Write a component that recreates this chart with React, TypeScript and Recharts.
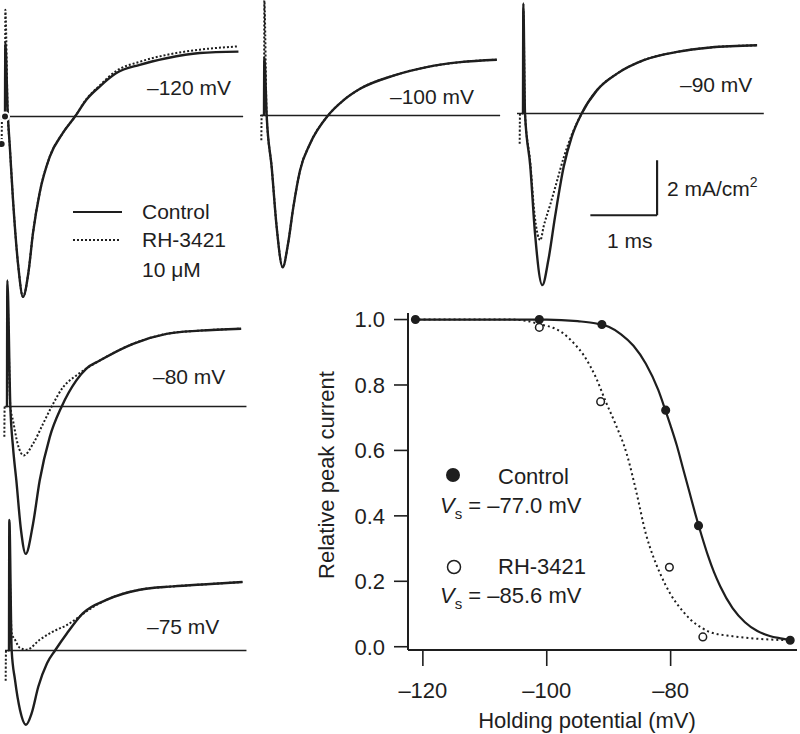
import { LineChart, ComposedChart, Line, Scatter, XAxis, YAxis, ReferenceLine } from 'recharts'

const INK = '#1e1e1e'
const FONT = '"Liberation Sans", Arial, Helvetica, sans-serif'

// ---- current traces: [time (ms), current (mA/cm2)] ----
const CONTROL_120 = [[0, 0], [0.005, 2.68], [0.04, 0.2], [0.075, -1.21], [0.12, -3.03], [0.2, -5.47], [0.27, -6.56], [0.35, -5.69], [0.42, -4.23], [0.52, -2.77], [0.67, -1.47], [0.87, -0.59], [1.05, 0], [1.22, 0.61], [1.42, 1.09], [1.67, 1.58], [2.02, 1.88], [2.42, 2.12], [2.92, 2.31], [3.5, 2.36]]
const DRUG_120 = [[-0.05, -1.0], [-0.045, 0], [0, 0], [0.005, 3.88], [0.04, 0.2], [0.075, -1.21], [0.12, -3.03], [0.2, -5.47], [0.27, -6.56], [0.35, -5.69], [0.42, -4.23], [0.52, -2.77], [0.67, -1.47], [0.87, -0.59], [1.05, 0], [1.22, 0.63], [1.42, 1.13], [1.67, 1.66], [2.02, 1.99], [2.42, 2.24], [2.92, 2.43], [3.5, 2.55]]

const CONTROL_100 = [[0, 0], [0.005, 2.11], [0.04, 0], [0.115, -1.88], [0.19, -4.06], [0.28, -5.52], [0.36, -4.67], [0.44, -3.33], [0.54, -2.0], [0.69, -1.03], [0.96, 0], [1.19, 0.55], [1.44, 0.97], [1.94, 1.45], [2.44, 1.76], [2.94, 1.94], [3.49, 2.03]]
const DRUG_100 = [[-0.04, -0.9], [-0.035, 0], [0, 0], [0.005, 4.18], [0.04, 0], [0.115, -1.88], [0.19, -4.06], [0.28, -5.52], [0.36, -4.67], [0.44, -3.33], [0.54, -2.0], [0.69, -1.03], [0.96, 0], [1.19, 0.55], [1.44, 0.97], [1.94, 1.45], [2.44, 1.76], [2.94, 1.94], [3.49, 2.03]]

const CONTROL_90 = [[0, 0], [0.005, 4.0], [0.03, 0], [0.11, -1.94], [0.18, -4.36], [0.29, -6.24], [0.38, -5.33], [0.48, -3.76], [0.61, -1.94], [0.73, -0.85], [0.88, 0], [1.11, 0.85], [1.41, 1.45], [1.81, 1.94], [2.31, 2.24], [2.81, 2.4], [3.51, 2.48]]
const DRUG_90 = [[-0.05, -1.1], [-0.045, 0], [0, 0], [0.005, 3.8], [0.03, 0], [0.11, -1.8], [0.17, -3.6], [0.22, -4.4], [0.26, -4.61], [0.31, -4.1], [0.41, -3.3], [0.51, -2.45], [0.61, -1.6], [0.73, -0.78], [0.88, 0], [1.11, 0.85], [1.41, 1.45], [1.81, 1.94], [2.31, 2.24], [2.81, 2.4], [3.51, 2.48]]

const CONTROL_80 = [[0, 0], [0.005, 4.58], [0.05, 0], [0.09, -1.48], [0.14, -2.69], [0.21, -4.5], [0.28, -5.36], [0.39, -4.27], [0.49, -2.69], [0.64, -1.12], [0.82, 0], [1.04, 0.95], [1.19, 1.38], [1.39, 1.67], [1.89, 2.28], [2.39, 2.64], [2.89, 2.76], [3.51, 2.83]]
const DRUG_80 = [[-0.04, -1.1], [-0.035, 0], [0, 0], [0.005, 4.0], [0.05, 0], [0.09, -0.51], [0.16, -1.36], [0.25, -1.78], [0.39, -1.36], [0.54, -0.63], [0.67, 0], [0.84, 0.7], [1.04, 1.13], [1.19, 1.38], [1.39, 1.67], [1.89, 2.28], [2.39, 2.64], [2.89, 2.76], [3.51, 2.83]]

const CONTROL_75 = [[0, 0], [0.005, 4.75], [0.04, 0], [0.09, -1.07], [0.165, -2.16], [0.255, -2.7], [0.34, -2.28], [0.44, -1.31], [0.57, -0.46], [0.69, 0], [0.87, 0.63], [1.11, 1.36], [1.46, 1.84], [1.96, 2.21], [2.46, 2.33], [2.96, 2.41], [3.5, 2.49]]
const DRUG_75 = [[-0.05, -1.1], [-0.045, 0], [0, 0], [0.005, 3.0], [0.04, 0.63], [0.09, 0.39], [0.165, 0.09], [0.265, 0.03], [0.46, 0.39], [0.66, 0.69], [0.87, 0.93], [1.06, 1.24], [1.16, 1.42], [1.46, 1.84], [1.96, 2.21], [2.46, 2.33], [2.96, 2.41], [3.5, 2.49]]

// ---- inactivation curve: [holding potential (mV), relative peak current] ----
const CONTROL_POINTS = [[-121.2, 1.0], [-101.2, 1.0], [-91.1, 0.985], [-80.8, 0.723], [-75.5, 0.37], [-60.7, 0.02]]
const DRUG_POINTS = [[-101.2, 0.976], [-91.3, 0.749], [-80.2, 0.243], [-74.8, 0.03]]
const CONTROL_FIT = [[-121.5, 1.0], [-110, 1.0], [-100, 1.0], [-95, 0.995], [-92, 0.988], [-90, 0.978], [-88, 0.955], [-86, 0.92], [-84, 0.865], [-82, 0.785], [-80.8, 0.72], [-80, 0.675], [-79, 0.615], [-78, 0.545], [-77, 0.475], [-76, 0.405], [-75, 0.34], [-74, 0.28], [-73, 0.228], [-72, 0.185], [-70, 0.118], [-68, 0.075], [-66, 0.048], [-64, 0.033], [-62, 0.025], [-60.7, 0.02]]
const DRUG_FIT = [[-121.5, 1.0], [-106, 1.0], [-103, 0.995], [-101, 0.985], [-99, 0.975], [-97.5, 0.96], [-95.6, 0.927], [-94, 0.89], [-92, 0.82], [-90.5, 0.75], [-89, 0.685], [-87.1, 0.59], [-85.5, 0.47], [-84, 0.345], [-82.8, 0.275], [-81.7, 0.224], [-80, 0.16], [-78, 0.108], [-76.9, 0.085], [-75, 0.058], [-73.7, 0.045], [-70, 0.032], [-67, 0.026], [-64, 0.022], [-60.7, 0.02]]

const X_TICKS = [-120, -100, -80]
const Y_TICKS = [0, 0.2, 0.4, 0.6, 0.8, 1.0]

const tr = (arr: number[][]) => arr.map(([t, i]) => ({ t, i }))
const pt = (arr: number[][]) => arr.map(([v, r]) => ({ v, r }))

// trace panel scale
const PX_PER_MS = 66.7
const PX_PER_MA = 27.5
const T_MIN = -0.15
const T_MAX = 3.75
const I_MIN = -7
const I_MAX = 5

function TracePanel({ x0, y0, base, control, drug, children }: any) {
  const width = (T_MAX - T_MIN) * PX_PER_MS
  const height = (I_MAX - I_MIN) * PX_PER_MA
  return (
    <div style={{ position: 'absolute', left: x0 + T_MIN * PX_PER_MS, top: y0 - I_MAX * PX_PER_MA }}>
      <LineChart width={width} height={height} margin={{ top: 0, right: 0, bottom: 0, left: 0 }}>
        <XAxis type="number" dataKey="t" domain={[T_MIN, T_MAX]} hide allowDataOverflow />
        <YAxis type="number" domain={[I_MIN, I_MAX]} hide allowDataOverflow />
        <ReferenceLine segment={[{ x: base[0], y: 0 }, { x: base[1], y: 0 }]} stroke={INK} strokeWidth={1.6} />
        {children}
        <Line
          data={tr(drug)}
          dataKey="i"
          type="monotone"
          stroke={INK}
          strokeWidth={2}
          strokeDasharray="2 2"
          dot={false}
          isAnimationActive={false}
        />
        <Line
          data={tr(control)}
          dataKey="i"
          type="monotone"
          stroke={INK}
          strokeWidth={2.4}
          dot={false}
          isAnimationActive={false}
        />
      </LineChart>
    </div>
  )
}

const dotShape = (filled: boolean, r: number) => (props: any) => (
  <circle
    cx={props.cx}
    cy={props.cy}
    r={r}
    fill={filled ? INK : '#fff'}
    stroke={INK}
    strokeWidth={1.5}
  />
)

export default function App() {
  const tickStyle = { fill: INK, fontSize: 22, fontFamily: FONT }
  return (
    <div style={{ position: 'absolute', left: 0, top: 0, width: 800, height: 734, background: '#fff', fontFamily: FONT, overflow: 'hidden' }}>
      <TracePanel x0={5} y0={116.7} base={[-0.075, 3.57]} control={CONTROL_120} drug={DRUG_120} />
      <TracePanel x0={264} y0={115} base={[-0.06, 3.54]} control={CONTROL_100} drug={DRUG_100} />
      <TracePanel x0={522.7} y0={113.3} base={[-0.09, 3.61]} control={CONTROL_90} drug={DRUG_90}>
        {/* scale bar: 1 ms x 2 mA/cm2 */}
        <ReferenceLine segment={[{ x: 1.01, y: -3.7 }, { x: 2.01, y: -3.7 }]} stroke={INK} strokeWidth={2.2} />
        <ReferenceLine segment={[{ x: 2.01, y: -1.7 }, { x: 2.01, y: -3.7 }]} stroke={INK} strokeWidth={2.2} />
      </TracePanel>
      <TracePanel x0={7.3} y0={406} base={[-0.035, 3.59]} control={CONTROL_80} drug={DRUG_80} />
      <TracePanel x0={9} y0={650.7} base={[-0.06, 3.56]} control={CONTROL_75} drug={DRUG_75} />

      <div style={{ position: 'absolute', left: 300, top: 290 }}>
        <ComposedChart width={500} height={444} margin={{ top: 23, right: 3, bottom: 24, left: 28 }}>
          <XAxis
            type="number"
            dataKey="v"
            domain={[-122.4, -59.6]}
            ticks={X_TICKS}
            tickFormatter={(v: number) => `–${Math.abs(v)}`}
            allowDataOverflow
            height={60}
            tickSize={16}
            tickMargin={16}
            tick={tickStyle}
            axisLine={{ stroke: INK, strokeWidth: 2 }}
            tickLine={{ stroke: INK, strokeWidth: 1.6 }}
          />
          <YAxis
            type="number"
            dataKey="r"
            domain={[-0.01, 1.02]}
            ticks={Y_TICKS}
            tickFormatter={(v: number) => v.toFixed(1)}
            allowDataOverflow
            width={80}
            tickSize={14}
            tickMargin={9}
            tick={tickStyle}
            axisLine={{ stroke: INK, strokeWidth: 2 }}
            tickLine={{ stroke: INK, strokeWidth: 1.6 }}
          />
          <Line data={pt(DRUG_FIT)} dataKey="r" type="monotone" stroke={INK} strokeWidth={2} strokeDasharray="2 3" dot={false} isAnimationActive={false} />
          <Line data={pt(CONTROL_FIT)} dataKey="r" type="monotone" stroke={INK} strokeWidth={2.2} dot={false} isAnimationActive={false} />
          <Scatter data={pt(DRUG_POINTS)} shape={dotShape(false, 3.8)} isAnimationActive={false} />
          <Scatter data={pt(CONTROL_POINTS)} shape={dotShape(true, 3.8)} isAnimationActive={false} />
        </ComposedChart>
      </div>

      <svg width={800} height={734} style={{ position: 'absolute', left: 0, top: 0, pointerEvents: 'none' }} fontFamily={FONT} fill={INK}>
        {/* trace labels */}
        <text x={147} y={95} fontSize={21}>–120 mV</text>
        <text x={390} y={104} fontSize={21}>–100 mV</text>
        <text x={680} y={92} fontSize={21}>–90 mV</text>
        <text x={153} y={384} fontSize={21}>–80 mV</text>
        <text x={147} y={634} fontSize={21}>–75 mV</text>

        {/* trace legend */}
        <line x1={73} y1={212} x2={122} y2={212} stroke={INK} strokeWidth={2.2} />
        <line x1={73} y1={240} x2={119} y2={240} stroke={INK} strokeWidth={2} strokeDasharray="2 2" />
        <text x={142} y={219} fontSize={21}>Control</text>
        <text x={142} y={247} fontSize={21}>RH-3421</text>
        <text x={142} y={277} fontSize={21}>10 μM</text>

        {/* scale bar labels */}
        <text x={667} y={196} fontSize={21}>
          2 mA/cm<tspan dy={-9} fontSize={14}>2</tspan>
        </text>
        <text x={607} y={248} fontSize={21}>1 ms</text>

        {/* inactivation legend */}
        <circle cx={453} cy={475} r={7} fill={INK} />
        <text x={498} y={484} fontSize={22}>Control</text>
        <text x={440} y={513} fontSize={22}>
          <tspan fontStyle="italic">V</tspan>
          <tspan dy={6} fontSize={15}>s</tspan>
          <tspan dy={-6}> = –77.0 mV</tspan>
        </text>
        <circle cx={454} cy={567} r={6.5} fill="#fff" stroke={INK} strokeWidth={1.5} />
        <text x={498} y={574} fontSize={22}>RH-3421</text>
        <text x={440} y={603} fontSize={22}>
          <tspan fontStyle="italic">V</tspan>
          <tspan dy={6} fontSize={15}>s</tspan>
          <tspan dy={-6}> = –85.6 mV</tspan>
        </text>

        {/* axis titles */}
        <text x={587} y={728} fontSize={22} textAnchor="middle">Holding potential (mV)</text>
        <text transform="translate(334,475) rotate(-90)" fontSize={22} textAnchor="middle">Relative peak current</text>
      </svg>
    </div>
  )
}
